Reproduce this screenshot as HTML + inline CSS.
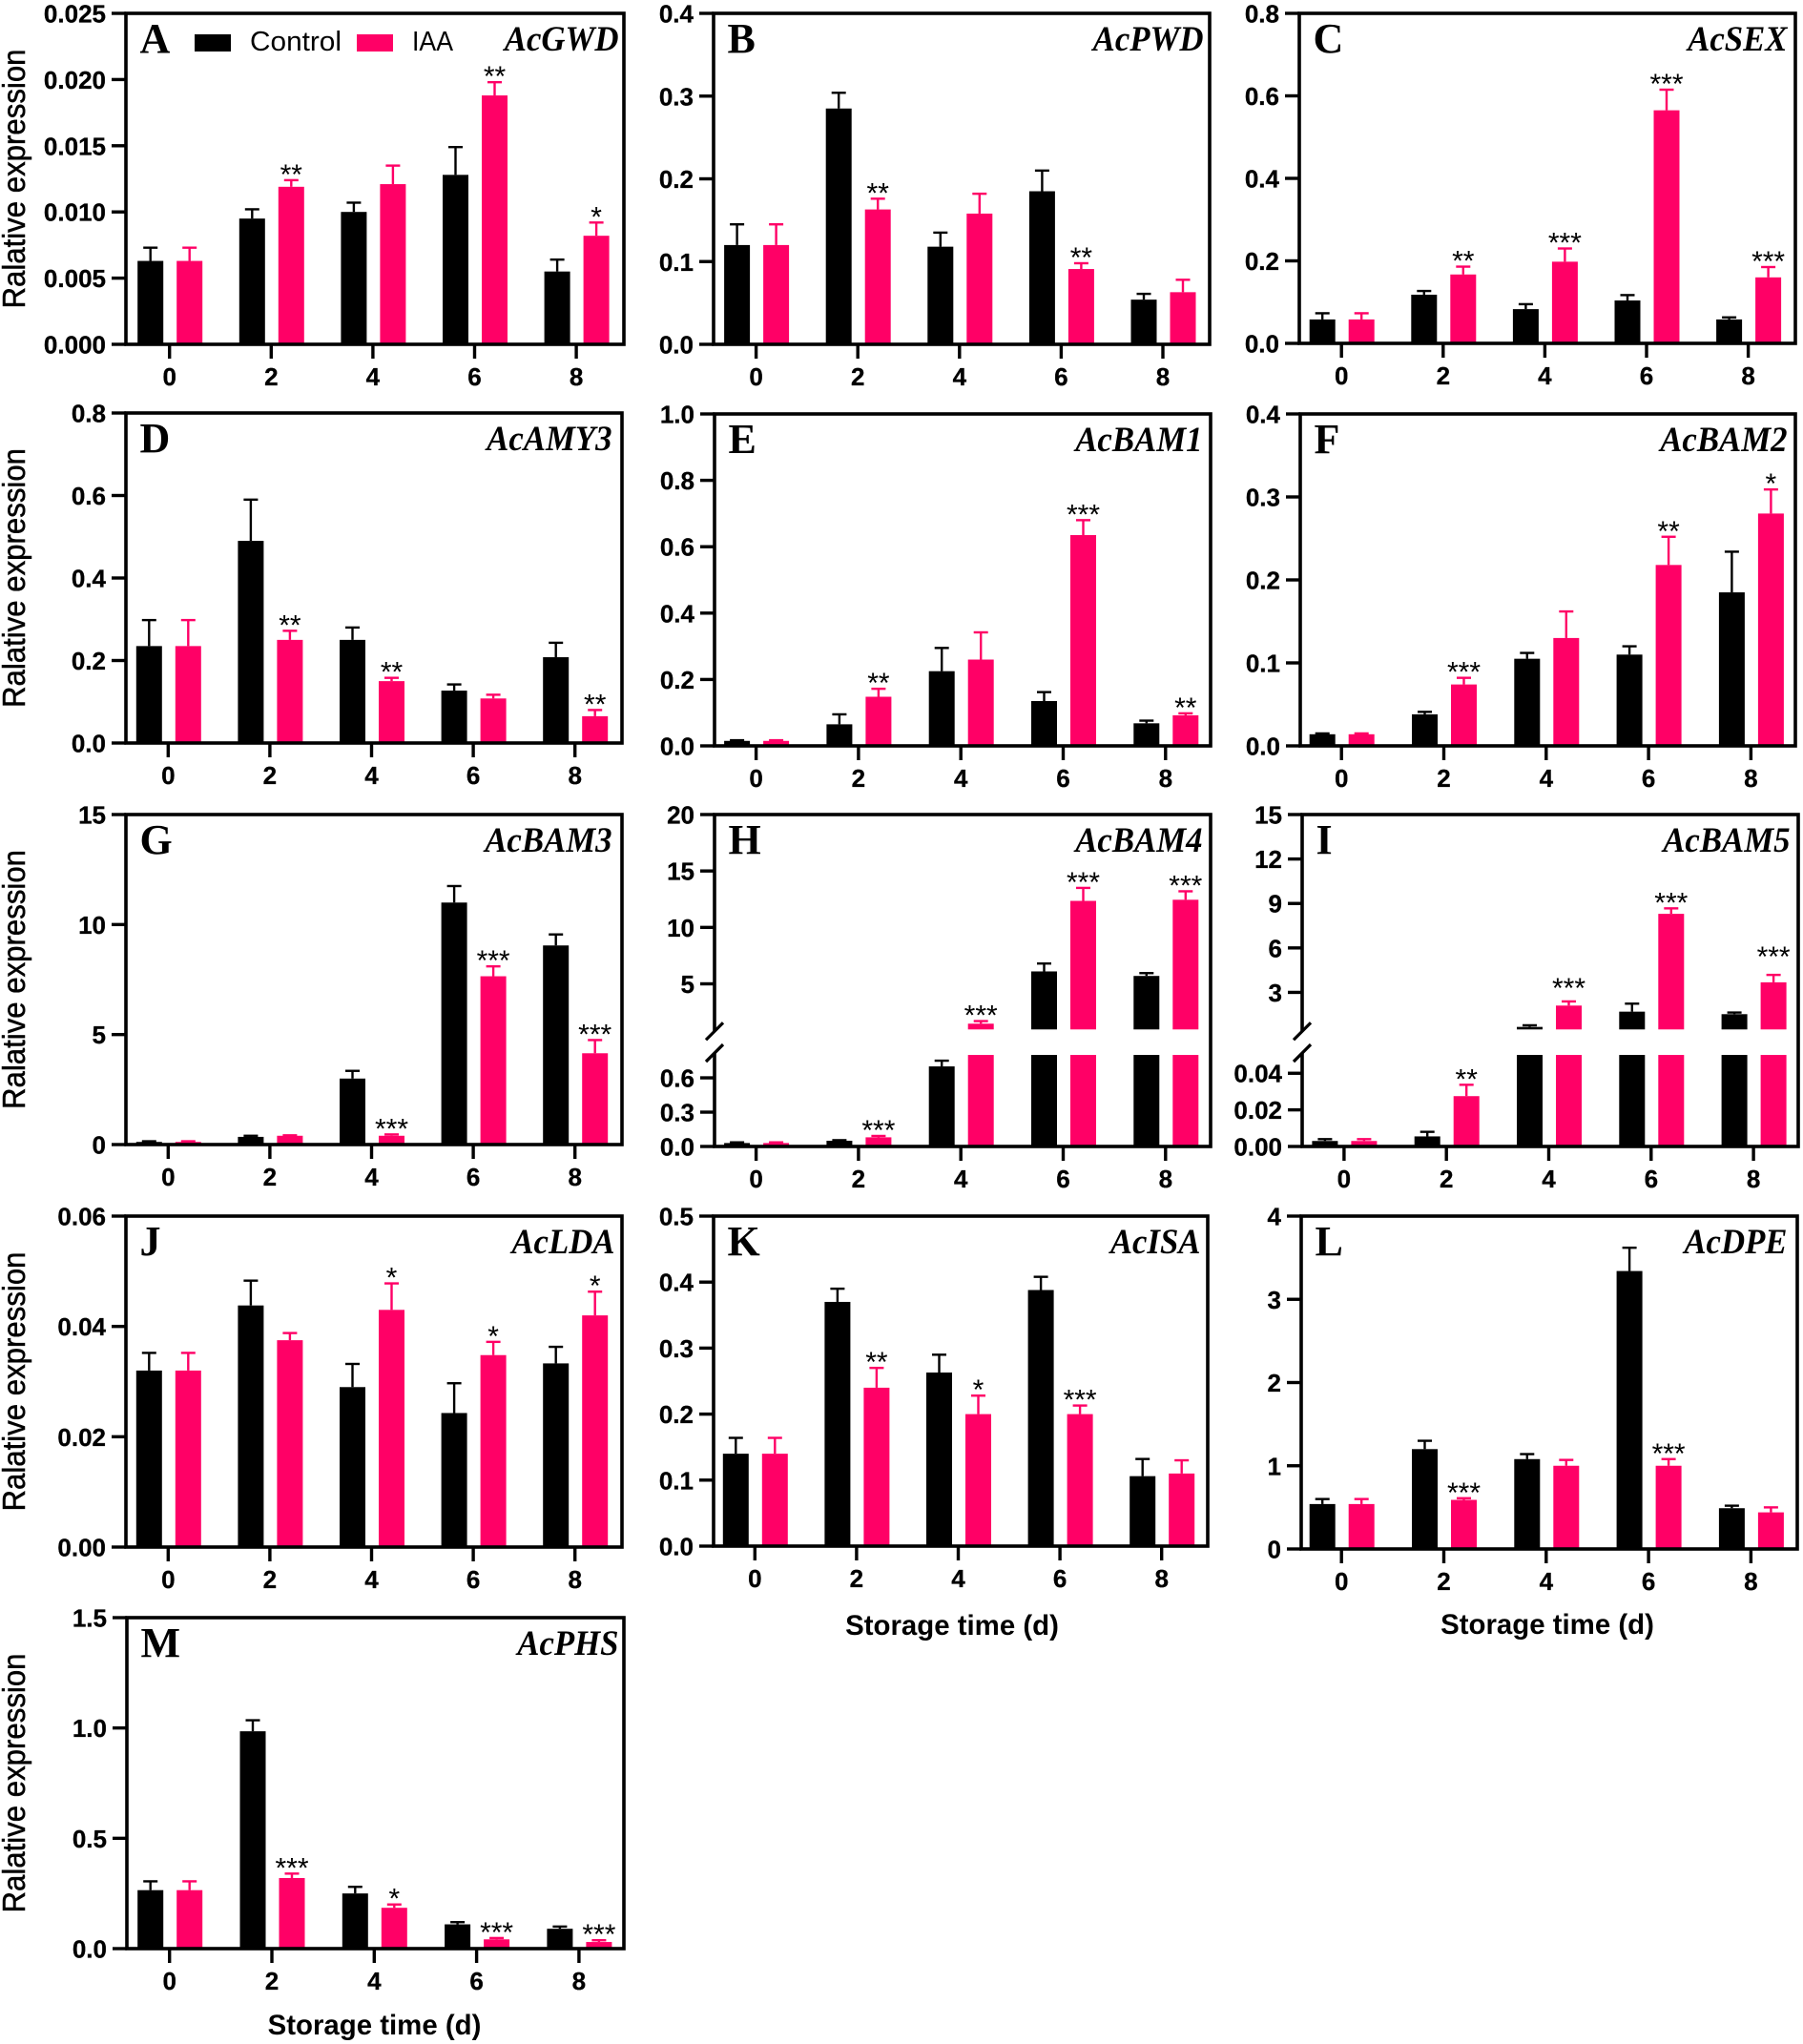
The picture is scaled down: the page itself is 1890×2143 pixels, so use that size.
<!DOCTYPE html>
<html>
<head>
<meta charset="utf-8">
<title>Relative expression of starch degradation genes</title>
<style>
html,body{margin:0;padding:0;background:#fff;}
svg{display:block;}
text{font-family:"Liberation Sans",Arial,sans-serif;fill:#000;}
</style>
</head>
<body>
<svg id="figure" xmlns="http://www.w3.org/2000/svg" width="1890" height="2143" viewBox="0 0 1890 2143"></svg>
<script>
const days = ['0','2','4','6','8'];

const gwdTicks = ['0.000','0.005','0.010','0.015','0.020','0.025'];
const gwdControl = [0.0063,0.0095,0.0100,0.0128,0.0055];
const gwdControlErr = [0.0010,0.0007,0.0007,0.0021,0.0009];
const gwdIAA = [0.0063,0.0119,0.0121,0.0188,0.0082];
const gwdIAAErr = [0.0010,0.0005,0.0014,0.0010,0.0010];
const gwdSig = ['','**','','**','*'];

const pwdTicks = ['0.0','0.1','0.2','0.3','0.4'];
const pwdControl = [0.12,0.285,0.118,0.185,0.054];
const pwdControlErr = [0.025,0.019,0.017,0.025,0.007];
const pwdIAA = [0.12,0.163,0.158,0.091,0.063];
const pwdIAAErr = [0.025,0.013,0.024,0.007,0.015];
const pwdSig = ['','**','','**',''];

const sexTicks = ['0.0','0.2','0.4','0.6','0.8'];
const sexControl = [0.058,0.118,0.083,0.104,0.058];
const sexControlErr = [0.015,0.009,0.012,0.013,0.005];
const sexIAA = [0.058,0.167,0.198,0.565,0.16];
const sexIAAErr = [0.015,0.019,0.032,0.05,0.025];
const sexSig = ['','**','***','***','***'];

const amyTicks = ['0.0','0.2','0.4','0.6','0.8'];
const amyControl = [0.235,0.49,0.25,0.127,0.208];
const amyControlErr = [0.063,0.1,0.03,0.015,0.035];
const amyIAA = [0.235,0.25,0.15,0.108,0.065];
const amyIAAErr = [0.063,0.022,0.008,0.009,0.015];
const amySig = ['','**','**','','**'];

const bam1Ticks = ['0.0','0.2','0.4','0.6','0.8','1.0'];
const bam1Control = [0.015,0.065,0.225,0.135,0.068];
const bam1ControlErr = [0.002,0.03,0.07,0.027,0.008];
const bam1IAA = [0.015,0.148,0.26,0.635,0.092];
const bam1IAAErr = [0.002,0.024,0.082,0.045,0.006];
const bam1Sig = ['','**','','***','**'];

const bam2Ticks = ['0.0','0.1','0.2','0.3','0.4'];
const bam2Control = [0.014,0.038,0.105,0.11,0.185];
const bam2ControlErr = [0.001,0.003,0.007,0.01,0.049];
const bam2IAA = [0.014,0.074,0.13,0.218,0.28];
const bam2IAAErr = [0.001,0.008,0.032,0.034,0.029];
const bam2Sig = ['','***','','**','*'];

const bam3Ticks = ['0','5','10','15'];
const bam3Control = [0.12,0.35,3.0,11.0,9.05];
const bam3ControlErr = [0.03,0.05,0.35,0.75,0.5];
const bam3IAA = [0.12,0.4,0.4,7.65,4.15];
const bam3IAAErr = [0.03,0.02,0.06,0.45,0.6];
const bam3Sig = ['','','***','***','***'];

const bam4LowerTicks = ['0.0','0.3','0.6'];
const bam4UpperTicks = ['5','10','15','20'];
const bam4Control = [0.03,0.05,0.7,6.1,5.7];
const bam4ControlErr = [0.006,0.005,0.05,0.7,0.25];
const bam4IAA = [0.03,0.08,1.47,12.35,12.45];
const bam4IAAErr = [0.006,0.012,0.23,1.15,0.75];
const bam4Sig = ['','***','***','***','***'];

const bam5LowerTicks = ['0.00','0.02','0.04'];
const bam5UpperTicks = ['3','6','9','12','15'];
const bam5Control = [0.003,0.0055,0.67,1.7,1.53];
const bam5ControlErr = [0.001,0.0025,0.11,0.54,0.11];
const bam5IAA = [0.003,0.0275,2.11,8.3,3.68];
const bam5IAAErr = [0.001,0.0062,0.28,0.37,0.5];
const bam5Sig = ['','**','***','***','***'];

const ldaTicks = ['0.00','0.02','0.04','0.06'];
const ldaControl = [0.032,0.0438,0.029,0.0243,0.0333];
const ldaControlErr = [0.0032,0.0045,0.0042,0.0054,0.003];
const ldaIAA = [0.032,0.0375,0.043,0.0348,0.042];
const ldaIAAErr = [0.0032,0.0013,0.0048,0.0024,0.0043];
const ldaSig = ['','','*','*','*'];

const isaTicks = ['0.0','0.1','0.2','0.3','0.4','0.5'];
const isaControl = [0.14,0.37,0.263,0.388,0.106];
const isaControlErr = [0.024,0.02,0.027,0.02,0.026];
const isaIAA = [0.14,0.24,0.2,0.2,0.11];
const isaIAAErr = [0.024,0.03,0.028,0.013,0.02];
const isaSig = ['','**','*','***',''];

const dpeTicks = ['0','1','2','3','4'];
const dpeControl = [0.54,1.2,1.08,3.34,0.49];
const dpeControlErr = [0.06,0.1,0.06,0.28,0.03];
const dpeIAA = [0.54,0.59,1.0,1.0,0.44];
const dpeIAAErr = [0.06,0.02,0.07,0.08,0.06];
const dpeSig = ['','***','','***',''];

const phsTicks = ['0.0','0.5','1.0','1.5'];
const phsControl = [0.265,0.985,0.25,0.11,0.09];
const phsControlErr = [0.04,0.05,0.03,0.01,0.01];
const phsIAA = [0.265,0.32,0.185,0.042,0.03];
const phsIAAErr = [0.04,0.02,0.015,0.006,0.008];
const phsSig = ['','***','*','***','***'];

const BLACK = '#000000';
const PINK = '#ff0066';
const svg = document.getElementById('figure');
const NS = 'http://www.w3.org/2000/svg';

function make(tag, attrs, parent, content) {
  const el = document.createElementNS(NS, tag);
  for (const k in attrs) el.setAttribute(k, attrs[k]);
  if (content !== undefined) el.textContent = content;
  parent.appendChild(el);
  return el;
}

function makeScale(p) {
  const h = p.b - p.t;
  if (!p.broken) {
    const max = Number(p.ticks[p.ticks.length - 1]);
    return v => p.b - (v / max) * h;
  }
  const lowH = h * 0.2757;
  const upH = h * 0.3526;
  return v => {
    if (v <= p.lowMax) return p.b - (v / p.lowMax) * lowH;
    if (v >= p.upMin) return p.b - upH - ((v - p.upMin) / (p.upMax - p.upMin)) * (h - upH);
    return p.b - lowH;
  };
}

function drawBar(g, p, y, x, v, err, color, label) {
  const w = 27;
  const zero = p.b;
  const segs = [];
  if (p.broken) {
    segs.push([zero, y(Math.min(v, p.lowMax))]);
    if (v > p.upMin) segs.push([y(p.upMin), y(v)]);
  } else {
    segs.push([zero, y(v)]);
  }
  segs.forEach(s => {
    const r = make('rect', {x: x - w / 2, y: s[1], width: w, height: s[0] - s[1], fill: color}, g);
    
    
  });
  const top = y(v + err);
  const stem = make('line', {x1: x, x2: x, y1: y(v), y2: top, stroke: color, 'stroke-width': 2.4}, g);
  
  
  const cap = make('line', {x1: x - 7.5, x2: x + 7.5, y1: top, y2: top, stroke: color, 'stroke-width': 2.4}, g);
  
  
  return top;
}

function drawYTick(g, p, yPos, label) {
  const t = make('line', {x1: p.l - 15, x2: p.l, y1: yPos, y2: yPos, stroke: '#000', 'stroke-width': 3.4}, g);
  
  
  const tx = make('text', {x: p.l - 21, y: yPos + 9.5, 'text-anchor': 'end', 'font-size': 26, 'font-weight': 700, stroke: '#000', 'stroke-width': 0.3}, g, label);
  
  
}

function drawPanel(p) {
  const g = make('g', {}, svg);
  
  
  const y = makeScale(p);
  const W = p.r - p.l;
  const xAt = i => p.x0 + p.step * i;

  days.forEach((d, i) => {
    const cx = xAt(i);
    drawBar(g, p, y, cx - 20, p.control[i], p.controlErr[i], BLACK, 'control-day-' + d);
    const top = drawBar(g, p, y, cx + 21, p.iaa[i], p.iaaErr[i], PINK, 'iaa-day-' + d);
    if (p.sig[i]) {
      const lift = (p.sigLift && p.sigLift[i]) || 0;
      const s = make('text', {x: cx + 21, y: top + 4 - lift, 'text-anchor': 'middle', 'font-size': 30}, g, p.sig[i]);
      
      
    }
    const t = make('line', {x1: cx, x2: cx, y1: p.b, y2: p.b + 15, stroke: '#000', 'stroke-width': 3.4}, g);
    
    
    const l = make('text', {x: cx, y: p.b + 43, 'text-anchor': 'middle', 'font-size': 26, 'font-weight': 700, stroke: '#000', 'stroke-width': 0.3}, g, d);
    
    
  });

  const frame = make('rect', {x: p.l, y: p.t, width: W, height: p.b - p.t, fill: 'none', stroke: '#000', 'stroke-width': 3.6}, g);
  
  

  if (p.broken) {
    const h = p.b - p.t;
    const y1 = p.b - h * 0.3526;
    const y2 = p.b - h * 0.2757;
    const gap = make('rect', {x: p.l - 3, y: y1 + 2, width: 6, height: y2 - y1 - 4, fill: '#fff'}, g);
    
    
    [y1 + 2, y2 - 2].forEach(yy => {
      const sl = make('line', {x1: p.l - 9, x2: p.l + 9, y1: yy + 9, y2: yy - 9, stroke: '#000', 'stroke-width': 3.2}, g);
      
      
    });
    p.lowerTicks.forEach(tk => drawYTick(g, p, y(Number(tk)), tk));
    p.upperTicks.forEach(tk => drawYTick(g, p, y(Number(tk)), tk));
  } else {
    p.ticks.forEach(tk => drawYTick(g, p, y(Number(tk)), tk));
  }

  const letter = make('text', {x: p.l + 14.5, y: p.t + 41, 'font-size': 44, 'font-weight': 700, style: 'font-family:"Liberation Serif",serif'}, g, p.letter);
  
  
  const geneRight = p.r - 8.5 - (p.geneShift || 0);
  const gene = make('text', {x: 0, y: 0, transform: 'translate(' + geneRight + ' ' + (p.t + 39) + ') scale(0.94 1)', 'text-anchor': 'end', 'font-size': 37, 'font-weight': 700, 'font-style': 'italic', style: 'font-family:"Liberation Serif",serif'}, g, p.gene);
  
  

  if (p.yTitle) {
    const c = (p.t + p.b) / 2;
    const yt = make('text', {x: 0, y: 0, transform: 'translate(26 ' + c + ') rotate(-90)', 'text-anchor': 'middle', 'font-size': 33, textLength: 272, lengthAdjust: 'spacingAndGlyphs', stroke: '#000', 'stroke-width': 0.5}, g, 'Ralative expression');
    
    
  }
  if (p.xTitle) {
    const xt = make('text', {x: p.xTitleX, y: p.xTitleY, 'text-anchor': 'middle', 'font-size': 29.4, 'font-weight': 700}, g, 'Storage time (d)');
    
    
  }
}

const panels = [
  {letter:'A',gene:'AcGWD',l:132,r:654,t:14,b:361,x0:177.7,step:106.6,geneShift:-3,ticks:gwdTicks,control:gwdControl,controlErr:gwdControlErr,iaa:gwdIAA,iaaErr:gwdIAAErr,sig:gwdSig,yTitle:true},
  {letter:'B',gene:'AcPWD',l:748,r:1268,t:14,b:361,x0:792.6,step:106.6,geneShift:-2,ticks:pwdTicks,control:pwdControl,controlErr:pwdControlErr,iaa:pwdIAA,iaaErr:pwdIAAErr,sig:pwdSig},
  {letter:'C',gene:'AcSEX',l:1362,r:1882,t:14,b:360,x0:1406.2,step:106.6,geneShift:0,ticks:sexTicks,control:sexControl,controlErr:sexControlErr,iaa:sexIAA,iaaErr:sexIAAErr,sig:sexSig},
  {letter:'D',gene:'AcAMY3',l:132,r:652,t:433,b:779,x0:176.3,step:106.6,geneShift:2,ticks:amyTicks,control:amyControl,controlErr:amyControlErr,iaa:amyIAA,iaaErr:amyIAAErr,sig:amySig,yTitle:true},
  {letter:'E',gene:'AcBAM1',l:749,r:1269,t:434,b:782,x0:792.6,step:107.3,ticks:bam1Ticks,control:bam1Control,controlErr:bam1ControlErr,iaa:bam1IAA,iaaErr:bam1IAAErr,sig:bam1Sig},
  {letter:'F',gene:'AcBAM2',l:1363,r:1882,t:434,b:782,x0:1406.2,step:107.3,ticks:bam2Ticks,control:bam2Control,controlErr:bam2ControlErr,iaa:bam2IAA,iaaErr:bam2IAAErr,sig:bam2Sig},
  {letter:'G',gene:'AcBAM3',l:132,r:652,t:854,b:1200,x0:176.3,step:106.6,geneShift:2,ticks:bam3Ticks,control:bam3Control,controlErr:bam3ControlErr,iaa:bam3IAA,iaaErr:bam3IAAErr,sig:bam3Sig,yTitle:true},
  {letter:'H',gene:'AcBAM4',l:749,r:1269,t:854,b:1202,x0:792.6,step:107.3,broken:true,lowMax:0.8,upMin:0.96,upMax:20,lowerTicks:bam4LowerTicks,upperTicks:bam4UpperTicks,control:bam4Control,controlErr:bam4ControlErr,iaa:bam4IAA,iaaErr:bam4IAAErr,sig:bam4Sig},
  {letter:'I',gene:'AcBAM5',l:1365,r:1885,t:854,b:1202,x0:1408.9,step:107.3,broken:true,lowMax:0.05,upMin:0.5,upMax:15,sigLift:{2:8,4:13},lowerTicks:bam5LowerTicks,upperTicks:bam5UpperTicks,control:bam5Control,controlErr:bam5ControlErr,iaa:bam5IAA,iaaErr:bam5IAAErr,sig:bam5Sig},
  {letter:'J',gene:'AcLDA',l:132,r:652,t:1275,b:1622,x0:176.3,step:106.6,geneShift:-1,ticks:ldaTicks,control:ldaControl,controlErr:ldaControlErr,iaa:ldaIAA,iaaErr:ldaIAAErr,sig:ldaSig,yTitle:true},
  {letter:'K',gene:'AcISA',l:748,r:1266,t:1275,b:1621,x0:791.3,step:106.6,geneShift:-1,xTitle:true,xTitleX:998,xTitleY:1714,ticks:isaTicks,control:isaControl,controlErr:isaControlErr,iaa:isaIAA,iaaErr:isaIAAErr,sig:isaSig},
  {letter:'L',gene:'AcDPE',l:1364,r:1884,t:1275,b:1624,x0:1406.2,step:107.3,geneShift:2,xTitle:true,xTitleX:1622,xTitleY:1713,ticks:dpeTicks,control:dpeControl,controlErr:dpeControlErr,iaa:dpeIAA,iaaErr:dpeIAAErr,sig:dpeSig},
  {letter:'M',gene:'AcPHS',l:133,r:654,t:1696,b:2043,x0:177.7,step:107.3,geneShift:-3,yTitle:true,xTitle:true,xTitleX:392.5,xTitleY:2133,ticks:phsTicks,control:phsControl,controlErr:phsControlErr,iaa:phsIAA,iaaErr:phsIAAErr,sig:phsSig}
];
panels.forEach(drawPanel);

const legend = make('g', {}, svg);


const swatchControl = make('rect', {x: 204, y: 36, width: 38, height: 18, fill: BLACK}, legend);


const labelControl = make('text', {x: 262, y: 53, 'font-size': 29, textLength: 96, lengthAdjust: 'spacingAndGlyphs'}, legend, 'Control');


const swatchIAA = make('rect', {x: 374, y: 36, width: 38, height: 18, fill: PINK}, legend);


const labelIAA = make('text', {x: 432, y: 53, 'font-size': 29, textLength: 43, lengthAdjust: 'spacingAndGlyphs'}, legend, 'IAA');


</script>
</body>
</html>
